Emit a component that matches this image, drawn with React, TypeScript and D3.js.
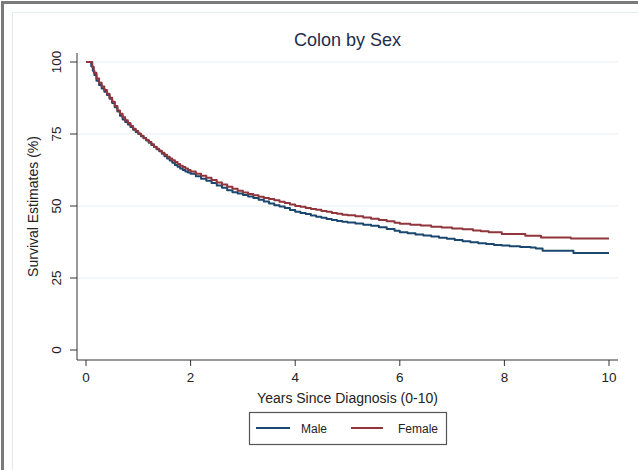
import React from "react";
import * as d3 from "d3";

// Kaplan–Meier survival estimates (%) by years since diagnosis
const maleYears = [
  0, 0.08, 0.1, 0.13, 0.16, 0.2, 0.25, 0.3, 0.35, 0.4, 0.45, 0.5, 0.55, 0.6, 0.65, 0.7, 0.75, 0.8, 0.85, 0.9, 0.95,
  1.0, 1.05, 1.1, 1.15, 1.2, 1.25, 1.3, 1.35, 1.4, 1.45, 1.5, 1.55, 1.6, 1.65, 1.7, 1.75, 1.8, 1.85, 1.9, 1.95,
  2.0, 2.1, 2.2, 2.3, 2.4, 2.5, 2.6, 2.7, 2.8, 2.9, 3.0, 3.1, 3.2, 3.3, 3.4, 3.5, 3.6, 3.7, 3.8, 3.9,
  4.0, 4.1, 4.2, 4.3, 4.4, 4.5, 4.6, 4.7, 4.8, 4.9, 5.0, 5.15, 5.3, 5.45, 5.6, 5.75, 5.9,
  6.0, 6.15, 6.3, 6.45, 6.6, 6.75, 6.9, 7.05, 7.2, 7.35, 7.5, 7.65, 7.8, 7.95, 8.1, 8.3, 8.5, 8.6, 8.73, 9.32, 10,
];
const maleSurvival = [
  100, 100, 98.5, 97, 95.5, 93.5, 92, 90.8, 89.7, 88.5, 87.2, 85.8, 84.3, 82.8, 81.3, 80, 79.2, 78.3, 77.4, 76.5, 75.7,
  75, 74.2, 73.5, 72.7, 72, 71.2, 70.5, 69.7, 69, 68.1, 67.3, 66.5, 65.8, 65, 64.2, 63.6, 63, 62.5, 62, 61.6,
  61.2, 60.3, 59.5, 58.8, 58, 57.1, 56.3, 55.5, 54.8, 54.3, 53.8, 53.3, 52.8, 52.2, 51.6, 50.9, 50.3, 49.8, 49.3, 48.6,
  48, 47.6, 47.2, 46.7, 46.3, 45.9, 45.5, 45.1, 44.8, 44.5, 44.3, 43.9, 43.5, 43.1, 42.6, 42.0, 41.4,
  40.9, 40.5, 40.1, 39.8, 39.4, 39.0, 38.6, 38.2, 37.8, 37.4, 37.1, 36.8, 36.5, 36.3, 36.0, 35.8, 35.6, 35.2, 34.5, 33.7, 33.7,
];

const femaleYears = [
  0, 0.1, 0.12, 0.15, 0.2, 0.25, 0.3, 0.35, 0.4, 0.45, 0.5, 0.55, 0.6, 0.65, 0.7, 0.75, 0.8, 0.85, 0.9, 0.95,
  1.0, 1.05, 1.1, 1.15, 1.2, 1.25, 1.3, 1.35, 1.4, 1.45, 1.5, 1.55, 1.6, 1.65, 1.7, 1.75, 1.8, 1.85, 1.9, 1.95,
  2.0, 2.1, 2.2, 2.3, 2.4, 2.5, 2.6, 2.7, 2.8, 2.9, 3.0, 3.1, 3.2, 3.3, 3.4, 3.5, 3.6, 3.7, 3.8, 3.9,
  4.0, 4.1, 4.2, 4.3, 4.4, 4.5, 4.6, 4.7, 4.8, 4.9, 5.0, 5.15, 5.3, 5.45, 5.6, 5.75, 5.9,
  6.0, 6.2, 6.4, 6.6, 6.8, 7.0, 7.2, 7.4, 7.55, 7.7, 7.95, 8.4, 8.7, 9.27, 10,
];
const femaleSurvival = [
  100, 100, 98.3, 96.3, 94.3, 92.8, 91.5, 90.3, 89, 87.6, 86.2, 84.7, 83.2, 82, 80.8, 79.8, 78.8, 77.8, 76.8, 76,
  75.2, 74.4, 73.6, 72.9, 72.2, 71.4, 70.6, 69.9, 69.2, 68.5, 67.8, 67.1, 66.5, 65.9, 65.3, 64.6, 64, 63.5, 63, 62.5,
  62, 61.2, 60.5, 59.8, 59, 58.2, 57.5, 56.7, 56, 55.3, 54.7, 54.2, 53.7, 53.2, 52.8, 52.4, 52, 51.5, 51, 50.5,
  50, 49.7, 49.3, 49.0, 48.7, 48.3, 48, 47.6, 47.3, 47.0, 46.8, 46.4, 46.0, 45.6, 45.1, 44.7, 44.2,
  43.8, 43.5, 43.2, 42.8, 42.5, 42.2, 41.9, 41.5, 41.2, 40.9, 40.3, 39.7, 39.1, 38.7, 38.7,
];

const xTicks = [0, 2, 4, 6, 8, 10];
const yTicks = [0, 25, 50, 75, 100];
const yGrid = [25, 50, 75, 100];

const seriesNames = ["Male", "Female"];
const seriesColors = ["#1a476f", "#90353b"];

const W = 638;
const H = 470;
const FONT = "'Liberation Sans', Arial, Helvetica, sans-serif";

export default function App() {
  const plot = { left: 77, right: 618, top: 53, bottom: 360 };
  const x = d3.scaleLinear().domain([0, 10]).range([86, 609]);
  const y = d3.scaleLinear().domain([0, 100]).range([350, 62]);

  const line = d3
    .line<[number, number]>()
    .x((d) => x(d[0]))
    .y((d) => y(d[1]))
    .curve(d3.curveStepAfter);

  const series = [
    d3.zip(maleYears, maleSurvival) as [number, number][],
    d3.zip(femaleYears, femaleSurvival) as [number, number][],
  ];

  const legend = { x: 249, y: 412, w: 197, h: 32 };
  const legendItems = [
    { x1: 256, x2: 290, tx: 301 },
    { x1: 351, x2: 383, tx: 398 },
  ];

  return (
    <svg
      width={W}
      height={H}
      style={{ position: "absolute", left: 0, top: 0, background: "#fff" }}
      fontFamily={FONT}
    >
      <rect x={0} y={0} width={W} height={H} fill="#ffffff" />
      {/* frame along top and left edges */}
      <path d={`M2.5,${H} V2.5 H${W}`} fill="none" stroke="#7a7a7a" strokeWidth={3} />
      <path d={`M12.5,${H} V12.5 H${W}`} fill="none" stroke="#e3ecea" strokeWidth={1} />

      {/* title */}
      <text x={(plot.left + plot.right) / 2} y={46} textAnchor="middle" fontSize={18} fill="#1e2d4d">
        Colon by Sex
      </text>

      {/* gridlines */}
      {yGrid.map((v) => (
        <line key={`g${v}`} x1={plot.left} x2={plot.right} y1={y(v)} y2={y(v)} stroke="#e5eef2" strokeWidth={1.2} />
      ))}

      {/* survival curves */}
      {series.map((s, i) => (
        <path
          key={seriesNames[i]}
          d={line(s) ?? ""}
          fill="none"
          stroke={seriesColors[i]}
          strokeWidth={2}
          strokeLinejoin="round"
        />
      ))}

      {/* y axis */}
      <line x1={plot.left} x2={plot.left} y1={plot.top} y2={plot.bottom} stroke="#333" strokeWidth={1} />
      {yTicks.map((v) => (
        <g key={`y${v}`}>
          <line x1={plot.left - 7} x2={plot.left} y1={y(v)} y2={y(v)} stroke="#333" strokeWidth={1} />
          <text transform={`translate(61,${y(v)}) rotate(-90)`} textAnchor="middle" fontSize={13.5} fill="#222">
            {v}
          </text>
        </g>
      ))}
      <text
        transform={`translate(37.5,${(plot.top + plot.bottom) / 2}) rotate(-90)`}
        textAnchor="middle"
        fontSize={14}
        fill="#222"
      >
        Survival Estimates (%)
      </text>

      {/* x axis */}
      <line x1={plot.left} x2={plot.right} y1={plot.bottom} y2={plot.bottom} stroke="#333" strokeWidth={1} />
      {xTicks.map((v) => (
        <g key={`x${v}`}>
          <line x1={x(v)} x2={x(v)} y1={plot.bottom} y2={plot.bottom + 6} stroke="#333" strokeWidth={1} />
          <text x={x(v)} y={382} textAnchor="middle" fontSize={13.5} fill="#222">
            {v}
          </text>
        </g>
      ))}
      <text x={(plot.left + plot.right) / 2} y={403} textAnchor="middle" fontSize={14} fill="#222">
        Years Since Diagnosis (0-10)
      </text>

      {/* legend */}
      <rect
        x={legend.x + 0.5}
        y={legend.y + 0.5}
        width={legend.w}
        height={legend.h}
        fill="#fff"
        stroke="#555"
        strokeWidth={1.2}
      />
      {legendItems.map((it, i) => (
        <g key={`l${i}`}>
          <line
            x1={it.x1}
            x2={it.x2}
            y1={legend.y + legend.h / 2}
            y2={legend.y + legend.h / 2}
            stroke={seriesColors[i]}
            strokeWidth={2}
          />
          <text x={it.tx} y={legend.y + legend.h / 2 + 4.5} fontSize={12} fill="#222">
            {seriesNames[i]}
          </text>
        </g>
      ))}
    </svg>
  );
}
